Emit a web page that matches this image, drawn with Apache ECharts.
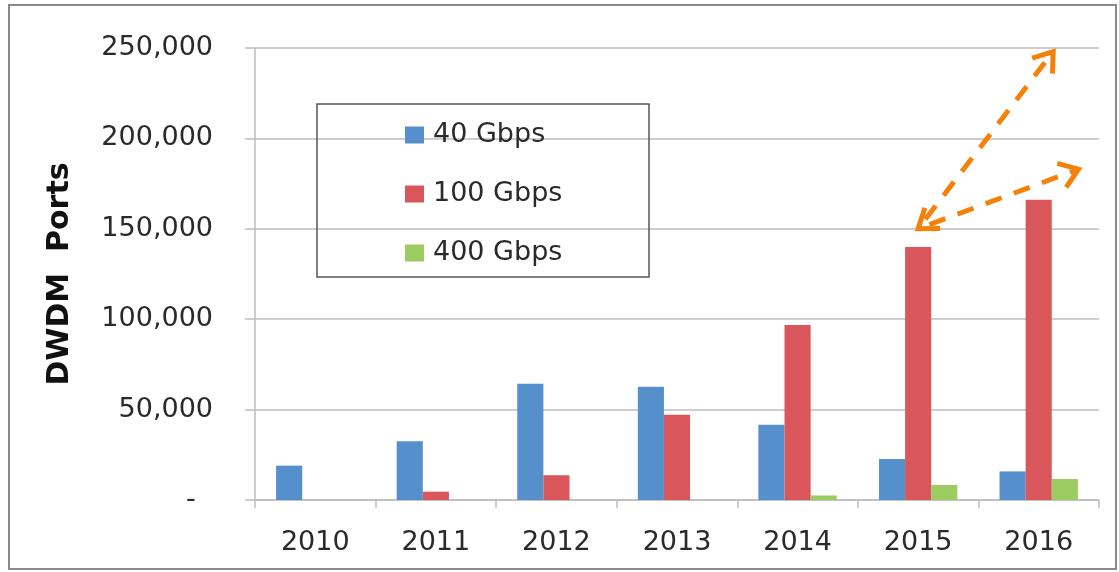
<!DOCTYPE html>
<html>
<head>
<meta charset="utf-8">
<title>DWDM Ports</title>
<script src="https://cdn.jsdelivr.net/npm/echarts@6/dist/echarts.min.js"></script>
<style>
  html,body{margin:0;padding:0;background:#fff;}
  #main{width:1119px;height:572px;}
</style>
</head>
<body>
<div id="main"></div>
<script>
//年份
var years = ['2010', '2011', '2012', '2013', '2014', '2015', '2016'];
//各速率端口数
var g40 = [19000, 32500, 64300, 62700, 41600, 22700, 15800];
var g100 = [null, 4600, 13700, 47200, 96800, 140000, 166100];
var g400 = [null, null, null, null, 2500, 8300, 11600];
var seriesNames = ['40 Gbps', '100 Gbps', '400 Gbps'];
var yTicks = [0, 50000, 100000, 150000, 200000, 250000];
//趋势箭头 [类目序号, 数值]
var arrowFrom = [5, 150000];
var arrowTo = [[6.12, 248000], [6.33, 183000]];

var colors = ['#5590CC', '#D9575A', '#9CCB61'];
var gridColor = '#BDBDBD';
var font = 'DejaVu Sans';
var txtColor = '#2a2a2a';

var myChart = echarts.init(document.getElementById('main'));

function fmtY(v){
	if(v === 0){
		return '-  ';
	}
	return String(v).replace(/\B(?=(\d{3})+(?!\d))/g, ',');
}

function makeBar(name, data, color){
	return {
		name: name,
		type: 'bar',
		data: data,
		barGap: '0%',
		barCategoryGap: '35%',
		itemStyle: {color: color},
		emphasis: {disabled: true}
	};
}

var option = {
	animation: false,
	grid: {left: 255, right: 20, top: 48, bottom: 72},
	legend: {
		orient: 'vertical',
		left: 400,
		top: 115,
		icon: 'rect',
		itemWidth: 19,
		itemHeight: 17,
		itemGap: 29,
		selectedMode: false,
		data: seriesNames,
		textStyle: {fontFamily: font, fontSize: 27, color: txtColor, lineHeight: 30, padding: [0, 0, 0, 4]}
	},
	xAxis: {
		type: 'category',
		data: years,
		axisLine: {lineStyle: {color: gridColor, width: 1.5}},
		axisTick: {show: true, length: 8, lineStyle: {color: gridColor, width: 1.5}},
		axisLabel: {fontFamily: font, fontSize: 27, color: txtColor, margin: 29}
	},
	yAxis: {
		type: 'value',
		min: yTicks[0],
		max: yTicks[yTicks.length - 1],
		interval: yTicks[1] - yTicks[0],
		name: 'DWDM  Ports',
		nameLocation: 'middle',
		nameRotate: 90,
		nameGap: 180,
		nameTextStyle: {fontFamily: font, fontSize: 30, fontWeight: 'bold', color: '#111'},
		axisLine: {show: true, lineStyle: {color: gridColor, width: 1.5}},
		axisTick: {show: true, length: 10, lineStyle: {color: gridColor, width: 1.5}},
		splitLine: {lineStyle: {color: gridColor, width: 1.5}},
		axisLabel: {fontFamily: font, fontSize: 27, color: txtColor, margin: 42, formatter: fmtY}
	},
	series: [
		makeBar(seriesNames[0], g40, colors[0]),
		makeBar(seriesNames[1], g100, colors[1]),
		makeBar(seriesNames[2], g400, colors[2])
	]
};
myChart.setOption(option);

/*
 * 箭头：按坐标轴换算像素
 * */
function toPx(x, v){
	var i = Math.round(x) > years.length - 1 ? years.length - 1 : Math.floor(x);
	var a = myChart.convertToPixel({gridIndex: 0}, [i - 1, v]);
	var b = myChart.convertToPixel({gridIndex: 0}, [i, v]);
	return [b[0] + (b[0] - a[0]) * (x - i), b[1]];
}
function chevron(tip, ang){
	var L = 22, spread = 0.62;
	var p1 = [tip[0] - L * Math.cos(ang - spread), tip[1] - L * Math.sin(ang - spread)];
	var p2 = [tip[0] - L * Math.cos(ang + spread), tip[1] - L * Math.sin(ang + spread)];
	return {
		type: 'polyline', z: 100, silent: true,
		shape: {points: [p1, tip, p2]},
		style: {stroke: '#F4820A', lineWidth: 5, fill: null, lineJoin: 'miter'}
	};
}

var start = toPx(arrowFrom[0], arrowFrom[1]);
var els = [
	//外框
	{type: 'rect', silent: true, shape: {x: 9, y: 5, width: 1107, height: 564},
	 style: {fill: null, stroke: '#8A8A8A', lineWidth: 2}},
	//图例框
	{type: 'rect', silent: true, shape: {x: 317, y: 104, width: 332, height: 173},
	 style: {fill: null, stroke: '#555', lineWidth: 1.5}}
];
var angSum = 0;
for(var k = 0; k < arrowTo.length; k++){
	var end = toPx(arrowTo[k][0], arrowTo[k][1]);
	var ang = Math.atan2(end[1] - start[1], end[0] - start[0]);
	angSum += ang;
	els.push({
		type: 'line', z: 100, silent: true,
		shape: {x1: start[0] + 12 * Math.cos(ang), y1: start[1] + 12 * Math.sin(ang), x2: end[0] - 4 * Math.cos(ang), y2: end[1] - 4 * Math.sin(ang)},
		style: {stroke: '#F4820A', lineWidth: 5, lineDash: [17, 13]}
	});
	els.push(chevron(end, ang));
}
els.push(chevron(start, angSum / arrowTo.length + Math.PI));
myChart.setOption({graphic: els});
</script>
</body>
</html>
